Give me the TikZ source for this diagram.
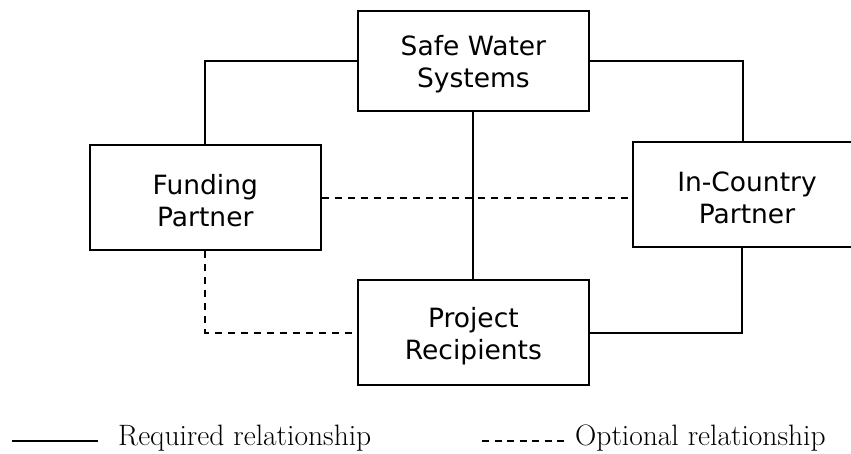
\documentclass[tikz,border=0pt]{standalone}
\usepackage{fontspec}
\newfontfamily\boxfont{DejaVu Sans}
\usetikzlibrary{calc}

\begin{document}
\begin{tikzpicture}[x=1pt, y=-1pt,
		party/.style={draw, line width=2pt, minimum width=231pt, minimum height=104pt,
			inner sep=0pt, align=center, text height=59pt,
			font=\boxfont\fontsize{26.5}{32}\selectfont},
		required/.style={line width=2pt},
		optional/.style={line width=2pt, dash pattern=on 7pt off 6pt},
		legendtext/.style={anchor=base west, inner sep=0pt, font=\fontsize{29.5}{34}\selectfont}]
		\useasboundingbox (0, 0) rectangle (851, 453);

		% the four parties
		\node [party, minimum height=100pt] (sws) at (473.4, 60.9) {Safe Water\\Systems};
		\node [party, minimum height=105pt] (fund) at (205.3, 197.5) {Funding\\Partner};
		\node [party, minimum width=229pt, minimum height=105pt] (icp) at (747, 194.5) {In-Country\\Partner};
		\node [party, minimum height=105pt] (pr) at (473.4, 332.5) {Project\\Recipients};

		% required relationships
		\draw [required] (sws.west) -| (fund.north);
		\draw [required] (sws.east) -| ([xshift=-4pt]icp.north);
		\draw [required] (sws.south) -- (pr.north);
		\draw [required] ([xshift=-5pt]icp.south) |- (pr.east);

		% optional relationships
		\draw [optional] (fund.east) -- (fund.east -| icp.west);
		\draw [optional] (fund.south) |- (pr.west);

		% legend
		\coordinate (reqa) at (12, 441);
		\coordinate (reqb) at (98, 441);
		\coordinate (opta) at (482, 441);
		\coordinate (optb) at (568, 441);
		\draw [line width=2pt] (reqa) -- (reqb);
		\draw [line width=2pt, dash pattern=on 7pt off 5.5pt] (opta) -- (optb);
		\node [legendtext] (reqlabel) at (118, 445.7) {Required relationship};
		\node [legendtext] (optlabel) at (575, 445.7) {Optional relationship};
	\end{tikzpicture}
\end{document}
